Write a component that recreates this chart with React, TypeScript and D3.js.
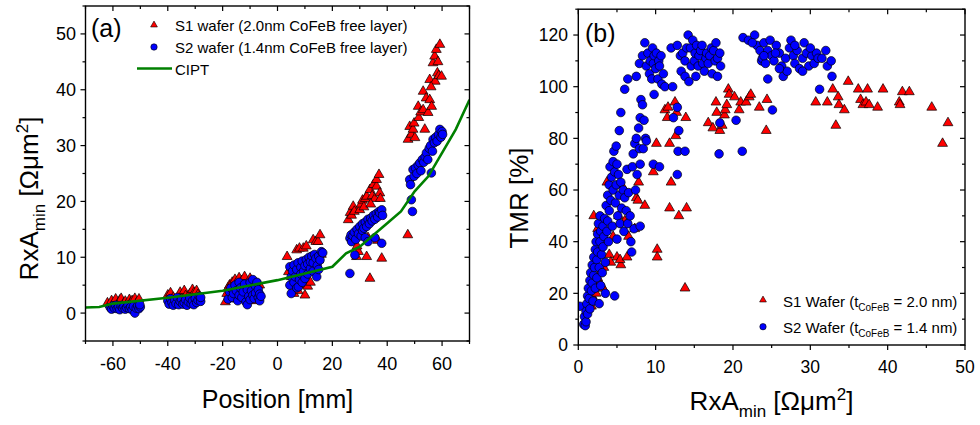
import React from 'react';
import * as d3 from 'd3';

const W = 980;
const H = 425;
const FONT = '"Liberation Sans", Arial, sans-serif';

// (a) RxA_min vs wafer position, [position mm, RxA Ωμm²]
const s1Position = [
  [-62, 1.8], [-61, 1.5], [-60.5, 2.2], [-59.5, 1.9], [-59, 2.5], [-58, 1.6], [-57.5, 2.3], [-57, 2.6], [-56, 1.8], [-55.5, 2.1],
  [-55, 1.5], [-54, 2.4], [-53.5, 1.9], [-53, 2.2], [-52, 2.6], [-51.5, 1.7], [-51, 2.0], [-50.5, 2.5], [-58.5, 1.3], [-54.5, 1.2],
  [-40, 3.2], [-39.5, 2.5], [-39, 3.6], [-38, 2.8], [-37, 2.2], [-36, 3.0], [-35.5, 3.7], [-35, 2.6], [-34, 4.0], [-33.5, 3.1],
  [-33, 2.4], [-32, 3.4], [-31, 4.2], [-30.5, 3.6], [-30, 2.8], [-29.5, 4.0], [-29, 3.3], [-28.5, 2.6],
  [-19, 2.0], [-18.5, 3.5], [-18, 4.5], [-17.5, 5.0], [-17, 3.0], [-16.5, 5.5], [-16, 4.2], [-15.5, 6.0], [-15, 2.5], [-14, 6.3],
  [-13.5, 4.8], [-13, 5.8], [-12, 6.5], [-11.5, 3.8], [-11, 5.2], [-10, 6.2], [-9.5, 4.5], [-9, 5.5], [-8.5, 2.2], [-8, 3.0],
  [-7, 4.0], [-6.5, 5.0],
  [3.5, 10.1], [4, 7.4], [5, 6.5], [6, 3.5], [7, 11.3], [8, 11.6], [8.5, 5.0], [9.4, 11.6], [10, 3.2], [10.5, 12.0],
  [11, 4.8], [12, 5.5], [13, 13.1], [13.5, 8.0], [14, 12.8], [14.8, 12.8], [15.5, 14.0], [15, 9.5], [16, 10.5], [7.5, 4.0], [6.5, 7.5],
  [25.8, 16.7], [26.5, 18.0], [27, 17.5], [27.6, 19.1], [28, 18.2], [28.8, 10.1], [29.5, 11.0], [30, 18.5], [30.5, 19.5], [31, 20.2],
  [31.5, 19.0], [32, 20.5], [32.5, 20.9], [32.5, 10.1], [33, 13.5], [33.7, 22.1], [33.7, 6.2], [34.5, 21.0], [35, 23.0], [35.5, 20.5],
  [36.1, 22.7], [36.1, 23.9], [36.5, 13.0], [37, 24.8], [37.3, 21.5], [37.5, 20.5], [38, 9.8], [29, 12.0], [34, 19.5],
  [47.6, 31.1], [47.5, 14.0], [48.2, 33.4], [48.8, 32.0], [49.4, 32.9], [49.8, 34.0], [50.1, 31.4], [51.3, 37.0], [51.5, 35.0], [52.2, 36.0],
  [53.1, 39.7], [53.1, 36.4], [53.7, 32.9], [54.2, 38.5], [54.9, 35.9], [55.5, 41.8], [55.5, 38.2], [56.2, 37.0], [56.7, 44.8], [57.3, 46.0],
  [57.5, 41.5], [57.9, 47.2], [58.3, 43.0], [58.8, 42.5], [59.2, 48.1], [59.8, 42.4], [58.5, 45.0], [56, 40.5],
];

const s2Position = [
  [-61, 1.0], [-60.5, 0.7], [-60, 1.3], [-59.5, 0.9], [-59, 1.4], [-58.5, 0.8], [-58, 1.1], [-57.5, 0.6], [-57, 1.3], [-56.5, 0.9],
  [-56, 1.2], [-55.5, 0.7], [-55, 1.0], [-54.5, 1.4], [-54, 0.8], [-53.5, 1.1], [-53, 0.6], [-52.5, 1.2], [-52, 0.0], [-51.5, 0.9],
  [-51, 1.3], [-50.5, 0.8], [-50, 1.1], [-50.2, 1.5],
  [-40, 2.2], [-39.5, 1.6], [-39, 2.6], [-38.5, 1.9], [-38, 1.4], [-37.5, 2.3], [-37, 1.7], [-36.5, 2.8], [-36, 1.5], [-35.5, 2.1],
  [-35, 2.5], [-34.5, 1.6], [-34, 1.9], [-33.5, 2.4], [-33, 1.4], [-32.5, 2.0], [-32, 2.7], [-31.5, 1.7], [-31, 2.2], [-30.5, 1.5],
  [-30, 2.6], [-29.5, 1.9], [-29, 2.3], [-28.5, 3.0], [-28, 2.1], [-28, 2.8],
  [-18, 2.5], [-17.5, 3.8], [-17, 4.5], [-16.5, 2.8], [-16, 3.5], [-15.5, 5.0], [-15, 4.0], [-14.5, 2.2], [-14, 3.2], [-14, 5.5],
  [-13.5, 4.5], [-13, 2.8], [-12.5, 3.8], [-12, 5.2], [-11.5, 2.0], [-11, 1.5], [-11, 4.2], [-10.5, 3.0], [-10, 5.5], [-10, 2.4],
  [-9.5, 4.0], [-9, 6.0], [-9, 3.2], [-8.5, 2.6], [-8, 4.8], [-8, 3.6], [-7.5, 5.5], [-7, 2.8], [-7, 4.2], [-6.5, 3.4],
  [-6.5, 2.2], [-6, 3.0],
  [4.5, 8.3], [4.5, 5.0], [5, 3.5], [5, 6.5], [5.5, 7.5], [6, 8.6], [6, 5.5], [6.5, 6.5], [7, 7.8], [7, 4.5],
  [7.5, 9.0], [7.6, 4.7], [8, 6.0], [8.5, 8.2], [8.5, 7.0], [9, 9.3], [9, 5.5], [9.5, 7.5], [10, 8.5], [10, 6.2],
  [10.5, 9.6], [11, 7.0], [11, 8.8], [11.5, 10.0], [12, 8.0], [12, 9.2], [12.5, 10.2], [13, 9.0], [13, 7.5], [13.5, 10.5],
  [14, 9.8], [14.3, 6.5], [14.5, 8.5], [15, 10.2], [15.5, 9.5], [16, 11.0], [16.5, 10.8], [15, 7.8],
  [26.4, 13.4], [26.4, 7.1], [26.8, 14.0], [27, 12.8], [27.5, 13.8], [28, 14.5], [28.2, 10.4], [28.5, 13.2], [29, 15.0], [29.5, 14.2],
  [30, 15.5], [30.5, 13.8], [31, 14.8], [31, 16.0], [31.5, 15.2], [32, 16.3], [32, 13.5], [32.5, 15.5], [33, 16.8], [33, 12.8],
  [33.5, 16.0], [34, 17.0], [34.5, 16.5], [35, 17.5], [35.5, 16.8], [35.5, 13.5], [36, 17.8], [36.5, 17.2], [37, 18.2], [37.3, 17.9],
  [38, 18.5], [38, 12.5], [38.3, 17.5],
  [48.2, 23.9], [48.5, 23.0], [48.8, 20.3], [49.2, 18.2], [49.4, 25.7], [49.8, 24.5], [50.3, 26.0], [50.8, 25.0], [51.3, 26.5], [51.9, 26.9],
  [52.3, 25.5], [52.8, 27.5], [53.3, 27.0], [53.8, 28.0], [54.3, 28.7], [54.8, 27.5], [55.3, 29.5], [55.8, 30.0], [56.1, 25.1], [56.5, 29.0],
  [56.7, 31.1], [57.2, 30.5], [57.7, 31.5], [58.2, 30.8], [58.7, 32.0], [59.2, 32.9], [59.6, 31.5], [60, 32.5], [60.2, 32.0],
];

const ciptPosition = [-70, -65, -60, -40, -20, 0, 20, 25, 30, 40, 45, 50, 55, 60, 65, 70];
const ciptRA = [1.0, 1.1, 1.7, 2.75, 4.0, 5.9, 8.3, 10.7, 11.9, 16.1, 18.2, 21.8, 24.5, 28.7, 32.9, 38.2];

// (b) TMR vs RxA_min, [RxA Ωμm², TMR %]
const s1Tmr = [
  [1.3, 14], [1.5, 17], [1.7, 15], [1.8, 19], [2.0, 21], [2.1, 17], [2.2, 24], [2.3, 20], [2.5, 26], [2.6, 22],
  [2.8, 28], [3.0, 23], [3.2, 22], [3.3, 30], [2.0, 50], [2.5, 45], [3.5, 40], [3.7, 63], [4.0, 35], [4.2, 32],
  [4.5, 42], [5.0, 34], [5.2, 50], [5.5, 31], [5.4, 33], [5.6, 62], [6.0, 48], [6.3, 34], [6.5, 42], [7.3, 45],
  [7.5, 57], [7.8, 63], [7.7, 56], [8.6, 54], [9.7, 67], [10.1, 78], [10.2, 37], [10.2, 34], [11.2, 91], [11.5, 88],
  [11.6, 92], [11.8, 78], [12.0, 63], [11.8, 53], [12.5, 94], [12.7, 90], [12.6, 81], [13.0, 50], [13.8, 22], [13.9, 88],
  [14.0, 53], [16.8, 86], [17.4, 84], [17.8, 94], [17.9, 90], [18.3, 83], [18.6, 85], [18.9, 89], [19.0, 91], [19.2, 93],
  [19.4, 99], [19.5, 97], [20.2, 96], [20.8, 91], [21.0, 94], [21.7, 94], [22.1, 96], [22.3, 97], [23.4, 92], [24.3, 83],
  [24.4, 95], [30.7, 94], [32.2, 94], [32.9, 99], [33.3, 85], [33.6, 96], [33.7, 93], [34.4, 91], [34.9, 102], [36.2, 99],
  [36.5, 95], [36.8, 93], [37.2, 94], [37.4, 99], [37.6, 93], [38.7, 92], [39.4, 99], [41.5, 94], [41.6, 93], [41.9, 98],
  [42.8, 98], [45.7, 92], [47.1, 78], [47.8, 86],
];

const s2Tmr = [
  [0.2, 15], [0.7, 8], [0.8, 11], [0.9, 7.5], [1.0, 13], [1.0, 9], [1.1, 16], [1.2, 19], [1.2, 12], [1.3, 22],
  [1.4, 18], [1.5, 25], [1.5, 14], [1.6, 28], [1.7, 21], [1.8, 31], [1.8, 24], [1.9, 17], [2.0, 34], [2.0, 27],
  [2.1, 30], [2.2, 37], [2.2, 22], [2.3, 40], [2.4, 33], [2.4, 26], [2.5, 43], [2.5, 36], [2.6, 47], [2.7, 30],
  [2.7, 16], [2.8, 50], [2.8, 40], [2.9, 44], [2.9, 23], [3.0, 35], [3.1, 28], [3.2, 46], [3.2, 38], [3.3, 42],
  [3.4, 49], [3.5, 32], [3.5, 20], [3.6, 54], [3.7, 44], [3.8, 58], [3.8, 48], [3.9, 40], [4.0, 62], [4.0, 52],
  [4.1, 69], [4.2, 56], [4.3, 65], [4.4, 46], [4.5, 60], [4.5, 71], [4.6, 75], [4.7, 19], [4.7, 67], [4.8, 55],
  [4.9, 77], [4.9, 62], [5.0, 41], [5.0, 70], [5.1, 50], [5.2, 66], [5.3, 83], [5.3, 58], [5.4, 47], [5.5, 90],
  [5.5, 63], [5.6, 53], [5.8, 60], [5.9, 44], [6.0, 57], [6.2, 52], [6.3, 68], [6.4, 47], [6.5, 59], [6.7, 50],
  [6.8, 40], [6.9, 36], [7.0, 69], [7.1, 74], [7.2, 45], [7.3, 78], [7.4, 60], [7.5, 80], [7.6, 66], [7.8, 84],
  [7.9, 76], [8.0, 88], [8.0, 70], [8.0, 46], [8.1, 95], [8.3, 93], [8.4, 76], [8.5, 87], [8.7, 80], [8.8, 79],
  [6.0, 99], [6.4, 103], [7.5, 104], [7.9, 109], [8.3, 112], [8.6, 117], [8.8, 108], [9.0, 113], [9.2, 105], [9.3, 110],
  [9.5, 103], [9.6, 115], [9.7, 109], [9.8, 112], [10.0, 107], [10.1, 113], [10.3, 103], [10.4, 110], [10.5, 108], [10.7, 112],
  [10.8, 101], [11.0, 105], [11.2, 100], [9.8, 97], [9.7, 70], [10.5, 69],
  [12.0, 115], [12.2, 100], [12.3, 88], [12.8, 92], [13.0, 83], [12.9, 75], [12.8, 66], [13.8, 75],
  [12.8, 116], [13.2, 112], [13.5, 113], [13.3, 106], [13.8, 110], [13.8, 104], [14.0, 115], [14.2, 120], [14.3, 102], [14.5, 115],
  [14.6, 108], [14.8, 118], [15.0, 110], [15.1, 113], [15.2, 104], [15.3, 116], [15.5, 108], [15.6, 112], [15.8, 114], [16.0, 116],
  [16.1, 109], [16.3, 106], [16.5, 111], [16.6, 113], [16.8, 109], [17.0, 112], [17.2, 115], [17.3, 105], [17.5, 114], [17.7, 110],
  [17.8, 117], [18.0, 111], [18.0, 104], [18.3, 113], [18.4, 108],
  [18.3, 86], [18.2, 74], [20.4, 87], [21.2, 75], [25.1, 91], [24.5, 103], [31.2, 99],
  [21.3, 119], [22.0, 118], [22.8, 120], [23.1, 116], [23.5, 114], [23.7, 110], [23.8, 111], [24.0, 117], [24.2, 109], [24.5, 114],
  [24.8, 118], [25.0, 112], [25.3, 110], [25.6, 116], [26.0, 113], [26.3, 108], [26.5, 104], [26.8, 111], [27.0, 106], [27.3, 115],
  [27.5, 118], [27.8, 112], [28.0, 109], [28.3, 114], [28.6, 107], [29.0, 111], [29.2, 117], [29.5, 113], [29.8, 108], [30.2, 112],
  [30.5, 109], [30.8, 113], [31.0, 111], [31.5, 111], [32.0, 114], [32.2, 108], [32.7, 110], [32.8, 104], [26.0, 107], [28.0, 116],
  [30.0, 115], [29.0, 106], [25.5, 113], [24.0, 112], [22.5, 117],
];

// tick values
const posMajor = [-60, -40, -20, 0, 20, 40, 60];
const posMinor = [-70, -50, -30, -10, 10, 30, 50, 70];
const raMajor = [0, 10, 20, 30, 40, 50];
const raMinor = [-5, 5, 15, 25, 35, 45, 55];
const rxaMajor = [0, 10, 20, 30, 40, 50];
const rxaMinor = [5, 15, 25, 35, 45];
const tmrMajor = [0, 20, 40, 60, 80, 100, 120];
const tmrMinor = [10, 30, 50, 70, 90, 110, 130];

const RED = '#ff0000';
const BLUE = '#0000ff';
const GREEN = '#008000';

const tri = d3.symbol().type(d3.symbolTriangle).size(42)();
const triSmall = d3.symbol().type(d3.symbolTriangle).size(20)();

type Sc = d3.ScaleLinear<number, number>;

function Axes({ x, y, xMajor, xMinor, yMajor, yMinor, fs, xLabY, yLabX }: {
  x: Sc; y: Sc; xMajor: number[]; xMinor: number[]; yMajor: number[]; yMinor: number[]; fs: number; xLabY: number; yLabX: number;
}) {
  const [x0, x1] = x.range();
  const [y1, y0] = y.range();
  const M = 5, m = 3;
  return (
    <g stroke="#000" strokeWidth={1.2}>
      {xMajor.map(v => (
        <g key={'xM' + v}>
          <line x1={x(v)} x2={x(v)} y1={y1} y2={y1 + M} />
          <line x1={x(v)} x2={x(v)} y1={y0} y2={y0 + M} />
          <text x={x(v)} y={xLabY} textAnchor="middle" fontSize={fs} stroke="none" fill="#000">{String(v)}</text>
        </g>
      ))}
      {xMinor.map(v => (
        <g key={'xm' + v}>
          <line x1={x(v)} x2={x(v)} y1={y1} y2={y1 + m} />
          <line x1={x(v)} x2={x(v)} y1={y0} y2={y0 + m} />
        </g>
      ))}
      {yMajor.map(v => (
        <g key={'yM' + v}>
          <line x1={x0 - M} x2={x0} y1={y(v)} y2={y(v)} />
          <line x1={x1 - M} x2={x1} y1={y(v)} y2={y(v)} />
          <text x={yLabX} y={y(v)} dy="0.36em" textAnchor="end" fontSize={fs} stroke="none" fill="#000">{String(v)}</text>
        </g>
      ))}
      {yMinor.map(v => (
        <g key={'ym' + v}>
          <line x1={x0 - m} x2={x0} y1={y(v)} y2={y(v)} />
          <line x1={x1 - m} x2={x1} y1={y(v)} y2={y(v)} />
        </g>
      ))}
      <rect x={x0} y={y0} width={x1 - x0} height={y1 - y0} fill="none" strokeWidth={1.4} />
    </g>
  );
}

export default function App() {
  const xa = d3.scaleLinear().domain([-70, 70]).range([85.5, 469.5]);
  const ya = d3.scaleLinear().domain([-5, 55]).range([341, 6]);
  const xb = d3.scaleLinear().domain([0, 50]).range([578.3, 965]);
  const yb = d3.scaleLinear().domain([0, 130]).range([345, 9.2]);

  const cipt = d3.line<number>().x((d, i) => xa(ciptPosition[i])).y(d => ya(d));

  return (
    <svg width={W} height={H} style={{ position: 'absolute', left: 0, top: 0, background: '#fff' }} fontFamily={FONT}>
      <defs>
        <clipPath id="clipA"><rect x={85.5} y={6} width={384} height={335} /></clipPath>
        <clipPath id="clipB"><rect x={578.3} y={9.2} width={386.7} height={335.8} /></clipPath>
      </defs>

      {/* panel (a) */}
      <g clipPath="url(#clipA)">
        {s1Position.map((d, i) => (
          <path key={'a1' + i} d={tri} transform={`translate(${xa(d[0])},${ya(d[1])})`} fill={RED} stroke="#000" strokeWidth={0.7} />
        ))}
        {s2Position.map((d, i) => (
          <circle key={'a2' + i} cx={xa(d[0])} cy={ya(d[1])} r={4.3} fill={BLUE} stroke="#000" strokeWidth={0.7} />
        ))}
        <path d={cipt(ciptRA) || ''} fill="none" stroke={GREEN} strokeWidth={2.6} />
      </g>
      <Axes x={xa} y={ya} xMajor={posMajor} xMinor={posMinor} yMajor={raMajor} yMinor={raMinor} fs={18} xLabY={370} yLabX={76} />
      <text x={91} y={37} fontSize={25}>(a)</text>
      <path d={triSmall} transform="translate(154,25)" fill={RED} stroke="#000" strokeWidth={0.6} />
      <text x={175} y={30.5} fontSize={15}>S1 wafer (2.0nm CoFeB free layer)</text>
      <circle cx={154} cy={47} r={3.2} fill={BLUE} stroke="#000" strokeWidth={0.6} />
      <text x={175} y={52.5} fontSize={15}>S2 wafer (1.4nm CoFeB free layer)</text>
      <line x1={137} x2={172} y1={68.5} y2={68.5} stroke={GREEN} strokeWidth={2.6} />
      <text x={175} y={74.5} fontSize={15}>CIPT</text>
      <text x={277.5} y={408} textAnchor="middle" fontSize={25}>Position [mm]</text>
      <text transform="translate(38,198.5) rotate(-90)" textAnchor="middle" fontSize={26}>
        RxA<tspan fontSize={17} dy={7}>min</tspan><tspan dy={-7}> [Ωμm</tspan><tspan fontSize={17} dy={-10}>2</tspan><tspan dy={10}>]</tspan>
      </text>

      {/* panel (b) */}
      <g clipPath="url(#clipB)">
        {s1Tmr.map((d, i) => (
          <path key={'b1' + i} d={tri} transform={`translate(${xb(d[0])},${yb(d[1])})`} fill={RED} stroke="#000" strokeWidth={0.7} />
        ))}
        {s2Tmr.map((d, i) => (
          <circle key={'b2' + i} cx={xb(d[0])} cy={yb(d[1])} r={4.3} fill={BLUE} stroke="#000" strokeWidth={0.7} />
        ))}
      </g>
      <Axes x={xb} y={yb} xMajor={rxaMajor} xMinor={rxaMinor} yMajor={tmrMajor} yMinor={tmrMinor} fs={17.5} xLabY={373} yLabX={568} />
      <text x={585} y={42} fontSize={25}>(b)</text>
      <path d={triSmall} transform="translate(763,300)" fill={RED} stroke="#000" strokeWidth={0.6} />
      <text x={783} y={306.5} fontSize={15}>
        S1 Wafer (t<tspan fontSize={10} dy={4}>CoFeB</tspan><tspan dy={-4}> = 2.0 nm)</tspan>
      </text>
      <circle cx={763} cy={326.7} r={3.2} fill={BLUE} stroke="#000" strokeWidth={0.6} />
      <text x={783} y={332.5} fontSize={15}>
        S2 Wafer (t<tspan fontSize={10} dy={4}>CoFeB</tspan><tspan dy={-4}> = 1.4 nm)</tspan>
      </text>
      <text x={771.5} y={410} textAnchor="middle" fontSize={26}>
        RxA<tspan fontSize={17} dy={7}>min</tspan><tspan dy={-7}> [Ωμm</tspan><tspan fontSize={17} dy={-10}>2</tspan><tspan dy={10}>]</tspan>
      </text>
      <text transform="translate(528,198) rotate(-90)" textAnchor="middle" fontSize={26}>TMR [%]</text>
    </svg>
  );
}
